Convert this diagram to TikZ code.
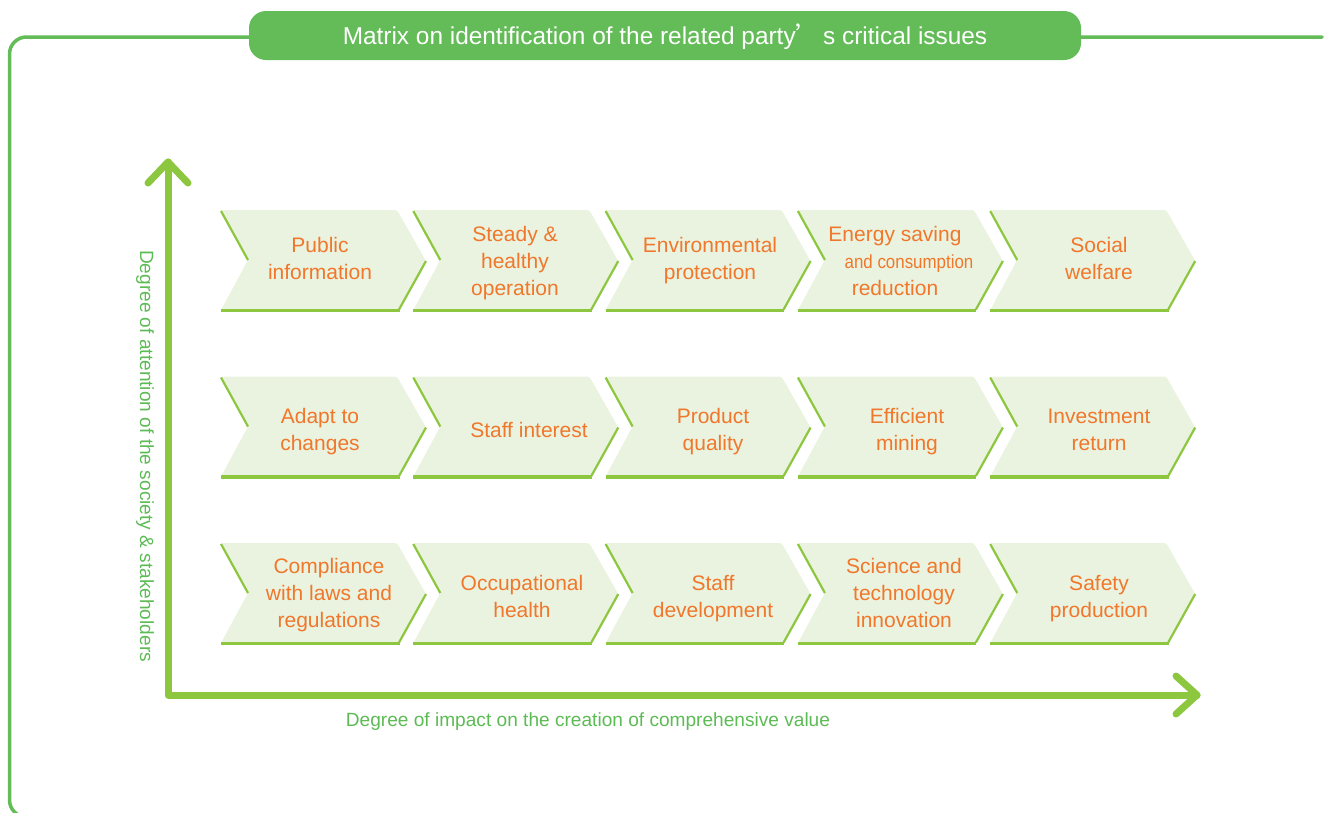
\documentclass[tikz,border=0pt]{standalone}
\usepackage{fontspec}
\setmainfont{Liberation Sans}
\newfontfamily\cjk{Noto Sans CJK SC}
\usepackage{graphicx}
\definecolor{barGreen}{HTML}{63BC57}
\definecolor{axisGreen}{HTML}{8DC63F}
\definecolor{chevFill}{HTML}{EAF3DF}
\definecolor{txtOrange}{HTML}{F0772B}
\definecolor{lblGreen}{HTML}{5DBB55}
\tikzset{
  framestyle/.style={draw=barGreen, line width=3.5pt, line cap=round, rounded corners=17},
  titlebar/.style={fill=barGreen, rounded corners=17, minimum width=832, minimum height=49, inner sep=0},
  titletext/.style={text=white, inner sep=0, font=\fontsize{24.4}{28}\selectfont},
  axisline/.style={draw=axisGreen, line width=7pt, line cap=round, line join=round},
  chevbody/.style={fill=chevFill, rounded corners=2.5},
  chevedge/.style={draw=axisGreen, line width=2.2pt},
  chevbase/.style={draw=axisGreen, line width=3.5pt},
  item/.style={align=center, text=txtOrange, inner sep=0, font=\fontsize{21}{27}\selectfont},
  axlabel/.style={text=lblGreen, inner sep=0, font=\fontsize{19.1}{23}\selectfont}
}
\begin{document}
\begin{tikzpicture}[x=1pt,y=-1pt]
\useasboundingbox (0,0) rectangle (1330,812);
\clip (0,0) rectangle (1330,812);
% frame
\draw[framestyle] (1322,37) -- (9.5,37) -- (9.5,817) -- (60,817);
% title
\node[titlebar] (title) at (665,35.5) {};
\node[titletext] (titletxt) at (665,37) {Matrix on identification of the related party{\cjk ’}\hspace{3pt}s critical issues};
% chevrons
\foreach \y in {210,376.5,543} {
  \foreach \c in {0,...,4} {
    \pgfmathsetmacro\x{221+192.3*\c}
    \fill[chevbody] (\x,\y) -- (\x+176,\y) -- (\x+205,\y+51) -- (\x+178,\y+100) -- (\x,\y+100) -- (\x+27,\y+50) -- cycle;
    \draw[chevedge] (\x,\y+1) -- (\x+27,\y+50);
    \draw[chevedge] (\x+205,\y+51) -- (\x+178,\y+99.5);
    \draw[chevbase] (\x,\y+100.5) -- (\x+178.5,\y+100.5);
  }
}
% texts
\node[item] (t11) at (320,258.5) {Public\\information};
\node[item] (t12) at (515,263) {Steady \&\\healthy\\operation};
\node[item] (t13) at (710,261) {Environmental\\protection};
\node[item] (t14) at (895,261) {Energy saving\\\hspace*{28pt}{\fontsize{19}{27}\selectfont\scalebox{0.89}[1]{and consumption}}\\reduction};
\node[item] (t15) at (1099,258.5) {Social\\welfare};
\node[item] (t21) at (320,432) {Adapt to\\changes};
\node[item] (t22) at (529,430) {Staff interest};
\node[item] (t23) at (713,432) {Product\\quality};
\node[item] (t24) at (907,432) {Efficient\\mining};
\node[item] (t25) at (1099,430) {Investment\\return};
\node[item] (t31) at (329,595) {Compliance\\with laws and\\regulations};
\node[item] (t32) at (522,596) {Occupational\\health};
\node[item] (t33) at (713,599) {Staff\\development};
\node[item] (t34) at (904,593) {Science and\\technology\\innovation};
\node[item] (t35) at (1099,599) {Safety\\production};
% axes
\coordinate (O) at (168,695);
\coordinate (Ytip) at (168,162);
\coordinate (Xtip) at (1197,695);
\draw[axisline] (Ytip) -- (O) -- (Xtip);
\draw[axisline] (Ytip) ++(-20,21) -- (Ytip) -- ++(20,21);
\draw[axisline] (Xtip) ++(-21,-19) -- (Xtip) -- ++(-21,19);
\node[axlabel, rotate=-90] (ylab) at (145,456) {Degree of attention of the society \& stakeholders};
\node[axlabel] (xlab) at (588,721.5) {Degree of impact on the creation of comprehensive value};
\end{tikzpicture}
\end{document}
